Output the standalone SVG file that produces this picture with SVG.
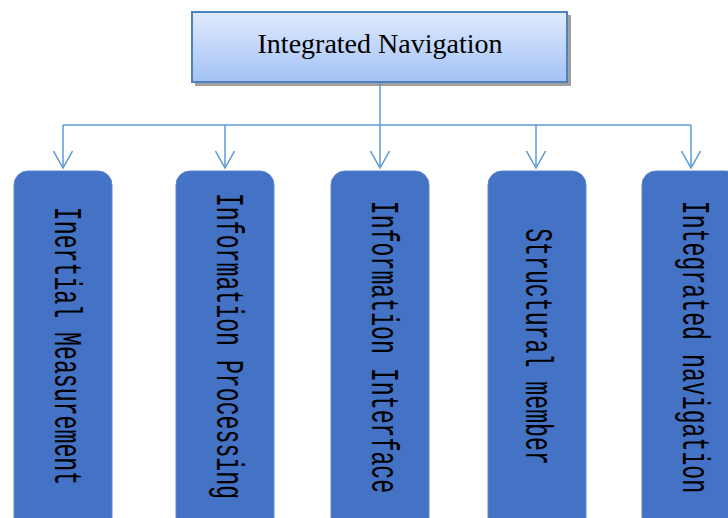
<svg xmlns="http://www.w3.org/2000/svg" width="728" height="518" viewBox="0 0 728 518">
<defs>
<linearGradient id="g" x1="0" y1="0" x2="0" y2="1">
<stop offset="0" stop-color="#e0eafd"/>
<stop offset="1" stop-color="#a3c2f6"/>
</linearGradient>
<marker id="a" markerWidth="22" markerHeight="20" refX="18" refY="10" orient="auto" markerUnits="userSpaceOnUse">
<path d="M1,0.5 L18,10 L1,19.5" fill="none" stroke="#5b9bd5" stroke-width="1.5"/>
</marker>
<style>
.c{fill:none;stroke:#5b9bd5;stroke-width:1.5}
.b{fill:#4472c4;stroke:#5a86cf;stroke-width:1}
.t{font-family:"Liberation Mono","DejaVu Sans Mono",monospace;font-size:23.2px;fill:#000;text-anchor:middle}
</style>
</defs>
<rect x="195" y="15" width="376" height="71" fill="#a0a0a0"/>
<g id="root">
<rect x="192" y="12" width="375" height="70" fill="url(#g)" stroke="#4f81bd" stroke-width="2"/>
<text x="380" y="53" font-family="Liberation Serif,serif" font-size="28" text-anchor="middle" fill="#000">Integrated Navigation</text>
</g>
<g id="connectors">
<path class="c" d="M380,83 V168" marker-end="url(#a)"/>
<path class="c" d="M63,125 H691"/>
<path class="c" d="M63,125 V168" marker-end="url(#a)"/>
<path class="c" d="M225,125 V168" marker-end="url(#a)"/>
<path class="c" d="M536,125 V168" marker-end="url(#a)"/>
<path class="c" d="M691,125 V168" marker-end="url(#a)"/>
</g>
<g id="n1">
<rect class="b" x="14" y="171" width="98" height="360" rx="14"/>
<text class="t" transform="translate(55,346) rotate(90) scale(1,1.67)">Inertial Measurement</text>
</g>
<g id="n2">
<rect class="b" x="176" y="171" width="98" height="360" rx="14"/>
<text class="t" transform="translate(217,346) rotate(90) scale(1,1.67)">Information Processing</text>
</g>
<g id="n3">
<rect class="b" x="331" y="171" width="98" height="360" rx="14"/>
<text class="t" transform="translate(372,347) rotate(90) scale(1,1.67)">Information Interface</text>
</g>
<g id="n4">
<rect class="b" x="488" y="171" width="98" height="360" rx="14"/>
<text class="t" transform="translate(526,346.5) rotate(90) scale(1,1.67)">Structural member</text>
</g>
<g id="n5">
<rect class="b" x="642" y="171" width="98" height="360" rx="14"/>
<text class="t" transform="translate(683,347) rotate(90) scale(1,1.67)">Integrated navigation</text>
</g>
</svg>
